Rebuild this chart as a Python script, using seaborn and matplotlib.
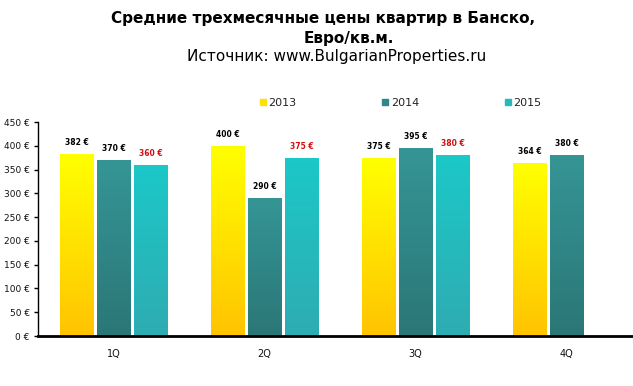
import numpy as np
import pandas as pd
import matplotlib
matplotlib.use("Agg")
import matplotlib.pyplot as plt
import seaborn as sns
from matplotlib.lines import Line2D

quarters = ["1Q", "2Q", "3Q", "4Q"]
years = ["2013", "2014", "2015"]
v2013 = [382, 400, 375, 364]
v2014 = [370, 290, 395, 380]
v2015 = [360, 375, 380, np.nan]
yticks = [0, 50, 100, 150, 200, 250, 300, 350, 400, 450]

grad = {
    "2013": ("#ffff00", "#ffc400"),
    "2014": ("#359595", "#2b7777"),
    "2015": ("#1cc8c8", "#2eacb2"),
}
mid = {"2013": "#ffe000", "2014": "#308686", "2015": "#25baba"}
label_color = {"2013": "black", "2014": "black", "2015": "#d01010"}

df = pd.DataFrame({
    "quarter": quarters * 3,
    "year": [y for y in years for _ in quarters],
    "value": v2013 + v2014 + v2015,
})

sns.set_style("white")
plt.rcParams["font.family"] = ["DejaVu Sans"]
plt.rcParams["text.color"] = "black"

fig = plt.figure(figsize=(6.33, 3.86), dpi=100)
ax = fig.add_axes([38/633, 1-336/386, 604/633, 214/386])

sns.barplot(data=df, x="quarter", y="value", hue="year", order=quarters,
            hue_order=years, palette=[mid[y] for y in years], width=0.735,
            gap=0.09, ax=ax, legend=False, saturation=1, linewidth=0)

# gradient fills
for cont, yr in zip(ax.containers, years):
    top, bot = matplotlib.colors.to_rgb(grad[yr][0]), matplotlib.colors.to_rgb(grad[yr][1])
    arr = np.linspace(0, 1, 64)[:, None]
    img = np.array(top)[None, None, :] * (1 - arr[:, :, None]) + np.array(bot)[None, None, :] * arr[:, :, None]
    for p in cont.patches:
        h = p.get_height()
        if not np.isfinite(h):
            continue
        x0, w = p.get_x(), p.get_width()
        im = ax.imshow(img, extent=[x0, x0 + w, 0, h], aspect="auto",
                       origin="upper", zorder=p.get_zorder() + 0.1)
        im.set_clip_path(p)
    labels = ["" if not np.isfinite(p.get_height()) else f"{int(p.get_height())} €" for p in cont.patches]
    ax.bar_label(cont, labels=labels, padding=5, fontsize=5.5, fontweight="bold",
                 color=label_color[yr])

ax.set_ylim(0, 450)
ax.set_xlim(-0.5, 3.5)
ax.set_aspect("auto")

ax.set_yticks(yticks)
ax.set_yticklabels([f"{t} €" for t in yticks], fontsize=6.5, color="#111111")
ax.set_xticks([0, 1, 2, 3])
ax.set_xticklabels(quarters, fontsize=7, color="#111111")
ax.set_xticks([0.5, 1.5, 2.5, 3.5], minor=True)
ax.tick_params(axis="x", which="major", length=0, pad=9)
ax.tick_params(axis="x", which="minor", length=3, width=1.2, direction="out", color="black")
ax.tick_params(axis="y", length=3, width=1, direction="out", color="black", pad=3, left=True)
ax.set_xlabel("")
ax.set_ylabel("")
for s in ["top", "right"]:
    ax.spines[s].set_visible(False)
ax.spines["left"].set_color("black")
ax.spines["left"].set_linewidth(1)
ax.spines["bottom"].set_color("black")
ax.spines["bottom"].set_linewidth(2)

handles = [Line2D([], [], marker="s", linestyle="", markersize=5,
                  markerfacecolor=mid[y], markeredgecolor=mid[y]) for y in years]
fig.legend(handles, years, loc="center", bbox_to_anchor=(400/633, 1-103/386), ncol=3,
           frameon=False, fontsize=8, handletextpad=0.1, columnspacing=7.6,
           handlelength=0.8, labelcolor="#222222")

fig.text(323/633, 1-19/386, "Средние трехмесячные цены квартир в Банско,",
         ha="center", va="center", fontsize=11, fontweight="bold", color="black")
fig.text(349/633, 1-38/386, "Евро/кв.м.", ha="center", va="center",
         fontsize=11, fontweight="bold", color="black")
fig.text(337/633, 1-57/386, "Источник: www.BulgarianProperties.ru", ha="center",
         va="center", fontsize=11, color="black")

fig.savefig("out.png", dpi=100)
